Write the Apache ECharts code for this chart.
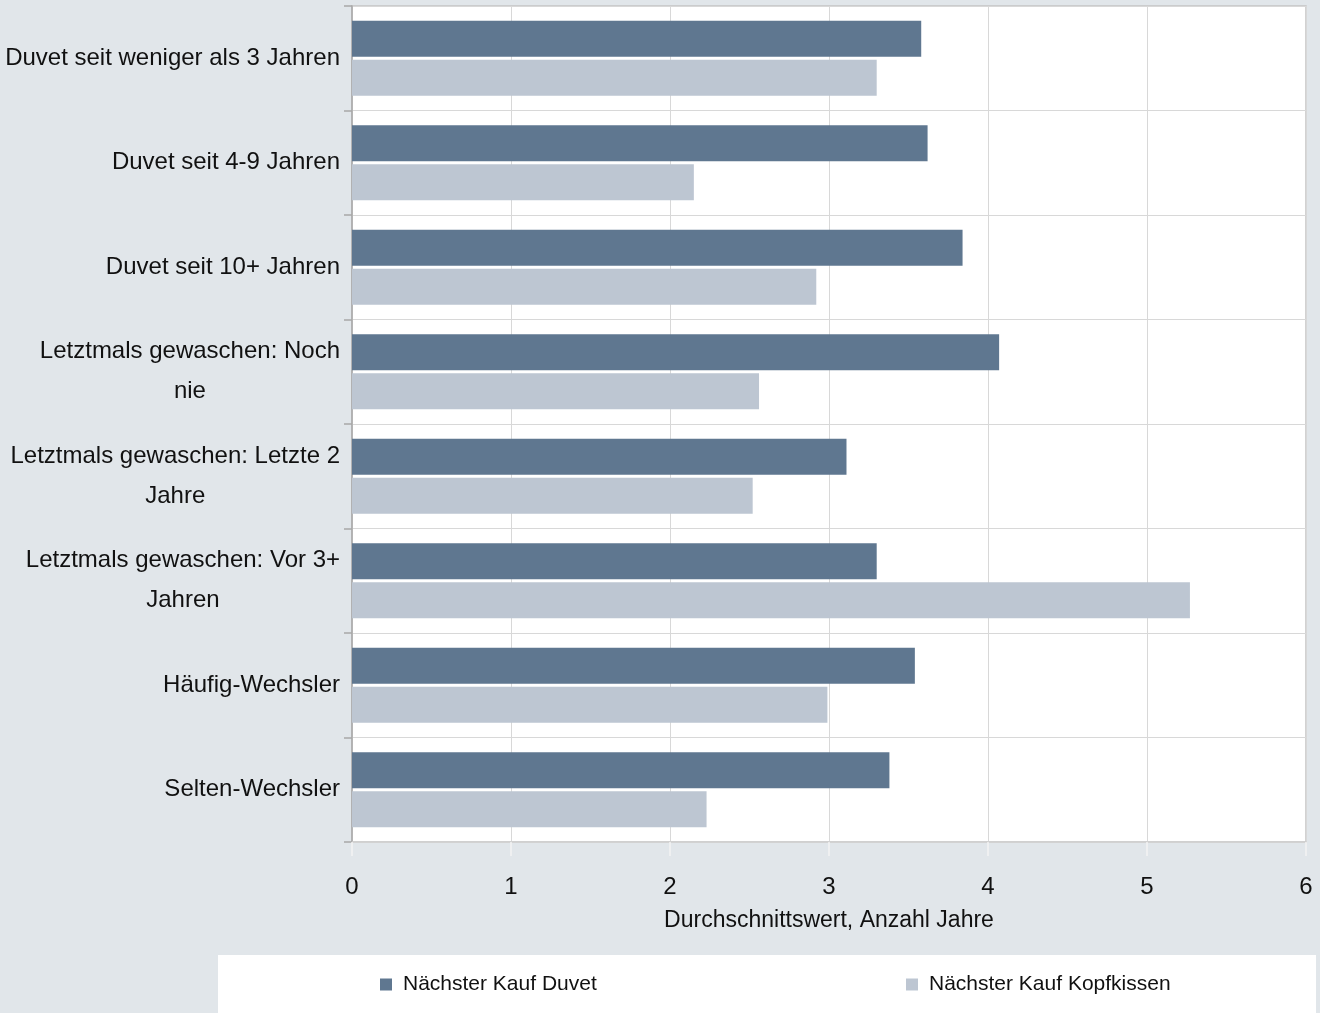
<!DOCTYPE html>
<html><head><meta charset="utf-8">
<script src="https://cdn.jsdelivr.net/npm/echarts@6/dist/echarts.min.js"></script>
<style>html,body{margin:0;padding:0;background:#e1e6ea}#c{width:1320px;height:1013px}</style>
</head><body><div id="c"></div>
<script>
const categories = [
  "Duvet seit weniger als 3 Jahren",
  "Duvet seit 4-9 Jahren",
  "Duvet seit 10+ Jahren",
  "Letztmals gewaschen: Noch\nnie",
  "Letztmals gewaschen: Letzte 2\nJahre",
  "Letztmals gewaschen: Vor 3+\nJahren",
  "Häufig-Wechsler",
  "Selten-Wechsler"
];
const seriesNames = ["Nächster Kauf Duvet", "Nächster Kauf Kopfkissen"];
const duvet = [3.58, 3.62, 3.84, 4.07, 3.11, 3.30, 3.54, 3.38];
const kopfkissen = [3.30, 2.15, 2.92, 2.56, 2.52, 5.27, 2.99, 2.23];
const xTicks = [0, 1, 2, 3, 4, 5, 6];
const xAxisName = "Durchschnittswert, Anzahl Jahre";

const FONT = '"Liberation Sans Narrow", "Arial Narrow", "Liberation Sans", sans-serif';
const chart = echarts.init(document.getElementById('c'));
chart.setOption({
  backgroundColor: '#e1e6ea',
  animation: false,
  textStyle: { fontFamily: FONT },
  graphic: [
    { type: 'rect', shape: { x: 218, y: 955, width: 1098, height: 58 }, style: { fill: '#ffffff' }, z: -1 },
    { type: 'rect', shape: { x: 352, y: 6, width: 954, height: 836 }, style: { fill: '#ffffff', stroke: '#c4c4c4', lineWidth: 1.5 }, z: -1 }
  ],
  legend: [
    { data: [seriesNames[0]], left: 380, top: 974, padding: 0, itemWidth: 12, itemHeight: 12, itemGap: 10, icon: 'rect',
      textStyle: { fontFamily: FONT, fontSize: 21, color: '#111', padding: [0, 0, 0, 6] } },
    { data: [seriesNames[1]], left: 906, top: 974, padding: 0, itemWidth: 12, itemHeight: 12, itemGap: 10, icon: 'rect',
      textStyle: { fontFamily: FONT, fontSize: 21, color: '#111', padding: [0, 0, 0, 6] } }
  ],
  grid: { left: 352, right: 14, top: 6, bottom: 171, containLabel: false, outerBoundsMode: 'none' },
  xAxis: {
    type: 'value', min: 0, max: 6, interval: 1,
    name: xAxisName, nameLocation: 'middle', nameGap: 67,
    nameTextStyle: { fontFamily: FONT, fontSize: 23, color: '#111' },
    axisLine: { show: true, lineStyle: { color: '#d0d0d0', width: 1.5 } },
    axisTick: { show: true, length: 14, inside: false, lineStyle: { color: '#f4f4f4', width: 1.5 } },
    axisLabel: { margin: 33, fontFamily: FONT, fontSize: 24, color: '#111',
      formatter: v => xTicks.includes(v) ? String(v) : '' },
    splitLine: { show: true, lineStyle: { color: '#d8d8d8', width: 1 } }
  },
  yAxis: {
    type: 'category', data: categories, inverse: true,
    axisLine: { show: true, lineStyle: { color: '#a8a8a8', width: 1.5 } },
    axisTick: { show: true, length: 8, lineStyle: { color: '#a8a8a8', width: 1.5 } },
    splitLine: { show: true, lineStyle: { color: '#d8d8d8', width: 1 } },
    axisLabel: {
      margin: 12, align: 'right', color: '#111',
      formatter: v => v.split('\n').map(s => '{c|' + s + '}').join('\n'),
      rich: { c: { align: 'center', fontFamily: FONT, fontSize: 24, lineHeight: 40, color: '#111' } }
    }
  },
  series: [
    { name: seriesNames[0], type: 'bar', data: duvet, barWidth: 36, barGap: '8%',
      itemStyle: { color: '#5f7790' } },
    { name: seriesNames[1], type: 'bar', data: kopfkissen, barWidth: 36, barGap: '8%',
      itemStyle: { color: '#bdc6d2' } }
  ]
});
</script></body></html>
